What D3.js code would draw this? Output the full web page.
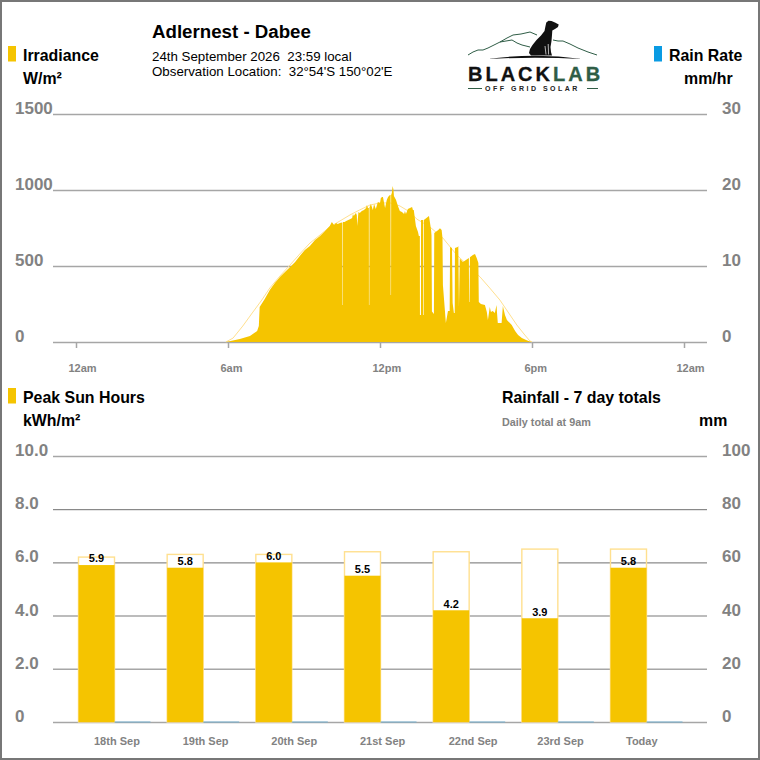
<!DOCTYPE html>
<html>
<head>
<meta charset="utf-8">
<script src="https://cdn.jsdelivr.net/npm/d3@7"></script>
<style>
html, body { margin: 0; padding: 0; background: #fff; }
svg { display: block; font-family: "Liberation Sans", Arial, sans-serif; }
</style>
</head>
<body>
<div id="chart"></div>
<script>
// minutes after midnight / measured irradiance W/m2
const irrMinutes = [355,388,412,429,433,435,447,459,471,483,495,507,519,530,542,554,566,578,590,601,606,611,616,620,625,630,631,631.2,632.2,632.4,636,640,645,650,654,656,658,661,663,665,666,669,672,677,682,687,689,691.5,693.6,693.8,694.8,695,698.5,703,706,710,715,720,722,725,727,732,736,739,743.5,745,745.2,746.2,746.4,748,750,752,753,758,762.5,767,772,777,779,781.5,786,791,796,798,800,805,810,812,814.4,814.6,817,817.2,822,822.2,823.6,823.8,836,841,842,843,847.7,848.5,858,862,866,868,869,876,881,885,886,890.5,892,895,897,897.5,904,905.5,907,909,916.5,923.5,930.5,931,932,933,940,945,949,953,954,959,968.5,973,975.6,980,982.7,987,992,996,997,999,1008,1011,1016,1020.6,1032,1040,1047,1056,1066,1075,1080];
const irrValues = [0,20,39,72,105,230,283,342,388,428,461,494,526,566,605,632,671,697,730,763,790,770,783,776,783,786,786,243,243,790,790,796,803,809,816,842,829,842,849,836,763,855,849,862,869,882,901,882,882,243,243,885,908,869,908,875,921,915,947,954,954,882,934,954,967,967,309,309,967,980,1026,1000,961,934,895,862,855,842,862,842,875,882,888,869,869,763,724,697,697,178,178,803,803,178,178,803,829,737,700,200,185,717,737,748,737,684,375,125,204,204,625,619,257,191,191,619,625,632,230,550,526,540,553,263,263,558,572,579,553,520,263,250,243,197,145,230,197,204,191,243,197,125,125,237,178,145,112,72,46,26,13,3,0];

// clear sky curve
const skyMinutes = [355,372,395,419,440,459,483,507,530,554,578,601,625,649,672,696,720,744,767,791,807,838,869,902,957,980,1004,1044,1063,1075,1080];
const skyValues = [0,26,105,197,276,355,434,507,579,651,704,757,796,836,869,901,915,915,895,855,809,757,684,572,428,355,276,112,46,7,0];

const hourTicks = [0,360,720,1080,1440];
const hourLabels = ['12am','6am','12pm','6pm','12am'];
const irrTicks = [0,500,1000,1500];
const rainRateTicks = [0,10,20,30];

const days = ['18th Sep','19th Sep','20th Sep','21st Sep','22nd Sep','23rd Sep','Today'];
const sunHours = [5.9,5.8,6.0,5.5,4.2,3.9,5.8];
const clearHours = [6.2,6.3,6.3,6.4,6.4,6.5,6.5];
const rainfall = [0,0,0,0,0,0,0];
const sunTicks = [0,2,4,6,8,10];
const rainTicks = [0,20,40,60,80,100];

const yellow = '#f5c400', pale = '#ffe08f', blue = '#0a9be3', grey = '#828282';

const svg = d3.select('#chart').append('svg')
    .attr('width', 760)
    .attr('height', 760);

svg.append('rect')
    .attr('x', 1).attr('y', 1)
    .attr('width', 758).attr('height', 758)
    .attr('fill', '#fff')
    .attr('stroke', '#777')
    .attr('stroke-width', 2);

function label(txt, x, y, size, weight, fill, anchor) {
    return svg.append('text')
        .attr('x', x).attr('y', y)
        .attr('font-size', size)
        .attr('font-weight', weight || 'normal')
        .attr('fill', fill || '#000')
        .attr('text-anchor', anchor || 'start')
        .style('white-space', 'pre')
        .text(txt);
}

function swatch(x, y, color) {
    svg.append('rect').attr('x', x).attr('y', y).attr('width', 8).attr('height', 15.5).attr('fill', color);
}

// header
swatch(8, 46, yellow);
label('Irradiance', 23, 61, 15.9, 'bold');
label('W/m²', 23, 84, 15.9, 'bold');
label('Adlernest - Dabee', 152, 38, 18.7, 'bold');
label('24th September 2026  23:59 local', 152, 61, 13.3);
label('Observation Location:  32°54\'S 150°02\'E', 152, 76, 13.3);
swatch(654, 46, blue);
label('Rain Rate', 669, 61, 15.9, 'bold');
label('mm/hr', 684, 84, 15.9, 'bold');

// logo
const logo = svg.append('g');
const ridge = d3.line().curve(d3.curveLinear);
[
    [[468,55],[473,52],[478,50],[483,50],[488,48],[494,45],[500,42],[507,38],[513,35],[521,34],[530,32],[537,35]],
    [[500,42],[506,41],[512,40],[517,43],[522,45],[530,47]],
    [[553,40],[558,41],[563,41],[570,44],[578,48],[588,52],[597,55]]
].forEach(p => logo.append('path').attr('d', ridge(p)).attr('fill', 'none').attr('stroke', '#2f5d46').attr('stroke-width', 1));
logo.append('path')
    .attr('d', 'M488,59 Q535,52.5 582,59 Q535,56.5 488,59Z')
    .attr('fill', '#111');
logo.append('path')
    .attr('d', 'M558.7,24.6 L555,22.5 L551.5,21 L548.5,20.7 L546.3,22.5 L545.5,26 L544.5,31 L541,35.5 L536.5,40 L532.5,45 L530,49 L529,53 L531,55.5 L552,55.5 L551,52 L550.5,47 L551.5,41 L552,35 L552.3,30.5 L555,29 L558,27Z')
    .attr('fill', '#111');
[[[545,46],[546,54.5]],[[548.2,44],[548.6,54.5]]].forEach(p => logo.append('path').attr('d', ridge(p)).attr('stroke', '#fff').attr('stroke-width', 0.7));
logo.append('text').attr('x', 468).attr('y', 80.5).attr('font-size', 20).attr('font-weight', 'bold').attr('fill', '#111').attr('letter-spacing', 3)
    .attr('stroke', '#111').attr('stroke-width', 0.3)
    .text('BLACK').append('tspan').attr('fill', '#2f5d46').attr('stroke', '#2f5d46').text('LAB');
logo.append('text').attr('x', 485).attr('y', 91).attr('font-size', 7).attr('font-weight', 'bold').attr('fill', '#222').attr('letter-spacing', 2.5)
    .text('OFF GRID SOLAR');
[[468,482],[587,598]].forEach(p => logo.append('line').attr('x1', p[0]).attr('x2', p[1]).attr('y1', 88.5).attr('y2', 88.5).attr('stroke', '#2f5d46'));

// irradiance chart
const x = d3.scaleLinear().domain([0, 1440]).range([76, 684]);
const y = d3.scaleLinear().domain([0, 1500]).range([342, 114]);
const yRain = d3.scaleLinear().domain([0, 30]).range([342, 114]);

function grid(scale, ticks, fmt, colorFn, widthFn) {
    const g = svg.append('g').attr('transform', 'translate(53,0)')
        .call(d3.axisLeft(scale).tickValues(ticks).tickSize(-654).tickFormat(fmt));
    g.select('.domain').remove();
    g.selectAll('line').attr('stroke', colorFn).attr('stroke-width', widthFn);
    g.selectAll('text')
        .attr('x', -38).attr('dy', -0.5)
        .attr('text-anchor', 'start')
        .attr('font-family', 'inherit')
        .attr('font-size', 17).attr('font-weight', 'bold').attr('fill', grey);
    return g;
}
function rightAxis(scale, ticks) {
    const g = svg.append('g').attr('transform', 'translate(707,0)')
        .call(d3.axisRight(scale).tickValues(ticks).tickSize(0));
    g.select('.domain').remove();
    g.selectAll('text')
        .attr('x', 15).attr('dy', -0.5)
        .attr('font-family', 'inherit')
        .attr('font-size', 17).attr('font-weight', 'bold').attr('fill', grey);
}

grid(y, irrTicks, d3.format('d'), () => '#a6a6a6', () => 1.5);
rightAxis(yRain, rainRateTicks);

const xAxis = svg.append('g').attr('transform', 'translate(0,342)')
    .call(d3.axisBottom(x).tickValues(hourTicks).tickSize(6).tickFormat((d, i) => hourLabels[i]));
xAxis.select('.domain').remove();
xAxis.selectAll('line').attr('stroke', '#a6a6a6').attr('stroke-width', 1.5);
xAxis.selectAll('text')
    .attr('x', -8).attr('y', 30).attr('dy', 0)
    .attr('text-anchor', 'start')
    .attr('font-family', 'inherit')
    .attr('font-size', 11).attr('font-weight', 'bold').attr('fill', grey);

const sky = d3.line()
    .x((d, i) => x(skyMinutes[i]))
    .y(d => y(d));
svg.append('path')
    .datum(skyValues)
    .attr('d', sky)
    .attr('fill', 'none')
    .attr('stroke', pale)
    .attr('stroke-width', 1);

const area = d3.area()
    .x((d, i) => x(irrMinutes[i]))
    .y0(y(0))
    .y1(d => y(d));
svg.append('path')
    .datum(irrValues)
    .attr('d', area)
    .attr('fill', yellow);

// bottom chart headings
swatch(8, 388, yellow);
label('Peak Sun Hours', 23, 403, 15.9, 'bold');
label('kWh/m²', 23, 426, 15.9, 'bold');
label('Rainfall - 7 day totals', 502, 403, 15.9, 'bold');
label('Daily total at 9am', 502, 426, 10.8, 'bold', grey);
label('mm', 699, 426, 15.9, 'bold');

const ySun = d3.scaleLinear().domain([0, 10]).range([722, 456]);
const yMm = d3.scaleLinear().domain([0, 100]).range([722, 456]);
const xDay = d3.scaleBand().domain(days).range([78.5, 682.5]).paddingInner(0.188);
const xPair = d3.scaleBand().domain(['sun', 'rain']).range([0, xDay.bandwidth()]);

grid(ySun, sunTicks, d => d === 0 ? '0' : d3.format('.1f')(d),
    d => (d === 6 || d === 8) ? '#6e6e6e' : '#a6a6a6',
    d => (d === 6 || d === 8) ? 1 : 1.5);
rightAxis(yMm, rainTicks);

svg.selectAll('.clear')
    .data(clearHours)
    .enter()
    .append('rect')
    .attr('class', 'clear')
    .attr('x', (d, i) => xDay(days[i]) + xPair('sun'))
    .attr('y', d => ySun(d))
    .attr('width', xPair.bandwidth())
    .attr('height', d => ySun(0) - ySun(d))
    .attr('fill', (d, i) => days[i] === 'Today' ? 'none' : '#fff') // today's box has no backing in the original
    .attr('stroke', pale)
    .attr('stroke-width', 1.4);

svg.selectAll('.sun')
    .data(sunHours)
    .enter()
    .append('rect')
    .attr('class', 'sun')
    .attr('x', (d, i) => xDay(days[i]) + xPair('sun'))
    .attr('y', d => ySun(d))
    .attr('width', xPair.bandwidth())
    .attr('height', d => ySun(0) - ySun(d))
    .attr('fill', yellow);

svg.selectAll('.rain')
    .data(rainfall)
    .enter()
    .append('rect')
    .attr('class', 'rain')
    .attr('x', (d, i) => xDay(days[i]) + xPair('rain'))
    .attr('y', d => yMm(d) - 0.5)
    .attr('width', xPair.bandwidth())
    .attr('height', d => yMm(0) - yMm(d) + 1)
    .attr('fill', '#74b0d0');

svg.selectAll('.sunLabel')
    .data(sunHours)
    .enter()
    .append('text')
    .attr('class', 'sunLabel')
    .attr('x', (d, i) => xDay(days[i]) + xPair('sun') + xPair.bandwidth() / 2)
    .attr('y', d => ySun(d) - 2.7)
    .attr('text-anchor', 'middle')
    .attr('font-size', 11)
    .attr('font-weight', 'bold')
    .text(d => d.toFixed(1));

svg.selectAll('.dayLabel')
    .data(days)
    .enter()
    .append('text')
    .attr('class', 'dayLabel')
    .attr('x', d => xDay(d) + 15.5)
    .attr('y', 745)
    .attr('font-size', 11)
    .attr('font-weight', 'bold')
    .attr('fill', grey)
    .text(d => d);
</script>
</body>
</html>
